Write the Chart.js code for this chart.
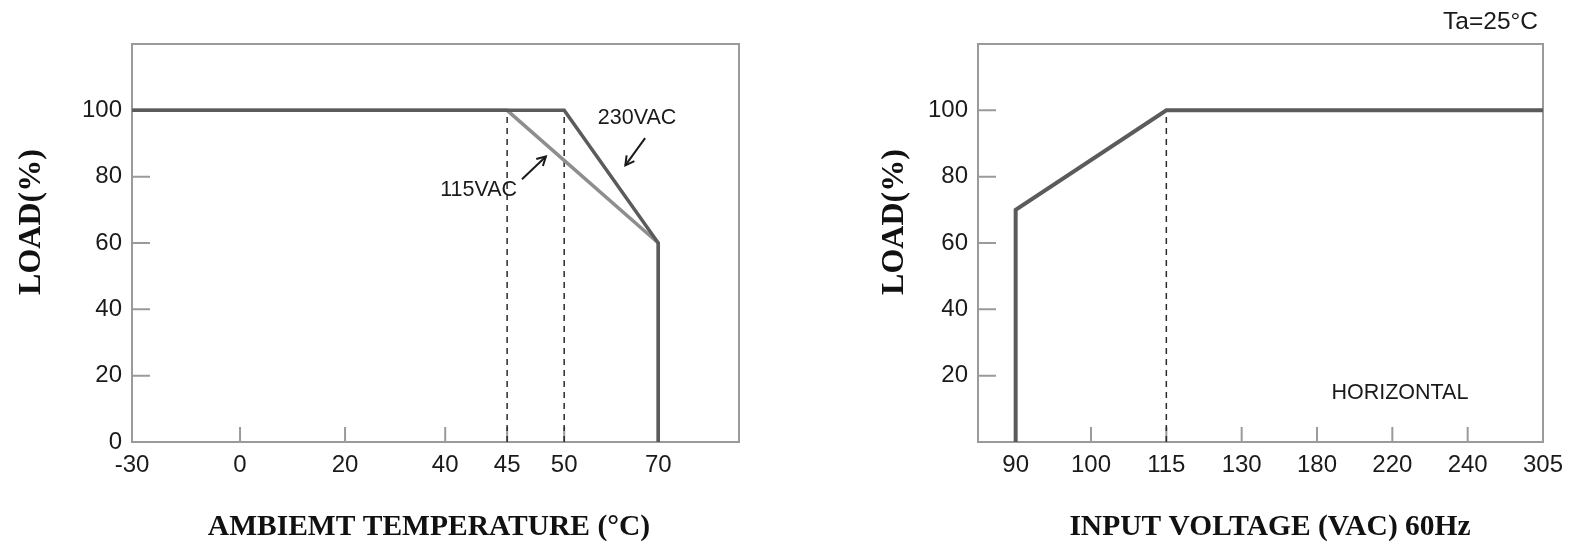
<!DOCTYPE html>
<html><head><meta charset="utf-8">
<script src="https://cdn.jsdelivr.net/npm/chart.js@4.4.1/dist/chart.umd.min.js"></script>
<style>
html,body{margin:0;padding:0;background:#fff;}
#wrap{position:relative;width:1574px;height:545px;overflow:hidden;background:#fff;}
.box{position:absolute;top:0;height:545px;}
canvas{display:block;}
</style></head><body>
<div id="wrap">
<div class="box" style="left:0;width:770px"><canvas id="c1" width="770" height="545"></canvas></div>
<div class="box" style="left:860px;width:714px"><canvas id="c2" width="714" height="545"></canvas></div>
</div>
<script>
// ---------- data ----------
const loadTicksLeft = [0, 20, 40, 60, 80, 100];
const loadTicksRight = [20, 40, 60, 80, 100];
const tempTicks = [-30, 0, 20, 40, 45, 50, 70];
const temp230 = [-30, 50, 70, 70];
const load230 = [100, 100, 60, 0];
const temp115 = [-30, 45, 70, 70];
const load115 = [100, 100, 60, 0];
const tempMarkers = [45, 50];
const voltTicks = [90, 100, 115, 130, 180, 220, 240, 305];
const voltLine = [90, 90, 115, 305];
const voltLoad = [0, 70, 100, 100];
const voltMarkers = [115];

// ---------- piecewise axis (non-uniform tick spacing as printed) ----------
class PiecewiseScale extends Chart.LinearScale {
  _pw(v) {
    const xs = this.options.breaks, us = this.options.stops;
    let i = 0;
    while (i < xs.length - 2 && v > xs[i + 1]) i++;
    return us[i] + (v - xs[i]) / (xs[i + 1] - xs[i]) * (us[i + 1] - us[i]);
  }
  getPixelForValue(v) { return this.getPixelForDecimal(this._pw(v)); }
  getValueForPixel(p) {
    const xs = this.options.breaks, us = this.options.stops;
    const u = this.getDecimalForPixel(p);
    let i = 0;
    while (i < us.length - 2 && u > us[i + 1]) i++;
    return xs[i] + (u - us[i]) / (us[i + 1] - us[i]) * (xs[i + 1] - xs[i]);
  }
}
PiecewiseScale.id = 'piecewise';
PiecewiseScale.defaults = Chart.LinearScale.defaults;
Chart.register(PiecewiseScale);

const pts = (xs, ys) => xs.map((x, i) => ({ x, y: ys[i] }));
const vline = (x) => [{ x, y: 0 }, { x, y: 100 }];

const TICK_FONT = { family: 'Liberation Sans, Arial, sans-serif', size: 24 };
const TITLE_FONT = 'bold 29.5px "Liberation Serif", "Times New Roman", serif';
const YTITLE_FONT = 'bold 32px "Liberation Serif", "Times New Roman", serif';

function yScale(width, tickVals) {
  return {
    type: 'linear', min: 0, max: 120,
    afterBuildTicks: s => { s.ticks = tickVals.map(v => ({ value: v })); },
    ticks: { font: TICK_FONT, color: '#1a1a1a', padding: 10, autoSkip: false, callback: v => String(v) },
    grid: { display: false, drawTicks: false },
    border: { display: false },
    afterFit: s => { s.width = width; }
  };
}
function xScale(tickVals, breaks, stops, min, max) {
  return {
    type: 'piecewise', min, max, breaks, stops,
    afterBuildTicks: s => { s.ticks = tickVals.map(v => ({ value: v })); },
    ticks: { font: TICK_FONT, color: '#1a1a1a', padding: 9, autoSkip: false, maxRotation: 0, callback: v => String(v) },
    grid: { display: false, drawTicks: false },
    border: { display: false },
    afterFit: s => { s.height = 103; }
  };
}

function arrow(ctx, x1, y1, x2, y2) {
  ctx.beginPath(); ctx.moveTo(x1, y1); ctx.lineTo(x2, y2); ctx.stroke();
  const a = Math.atan2(y2 - y1, x2 - x1), L = 10, w = 0.5;
  ctx.beginPath();
  ctx.moveTo(x2 - L * Math.cos(a - w), y2 - L * Math.sin(a - w));
  ctx.lineTo(x2, y2);
  ctx.lineTo(x2 - L * Math.cos(a + w), y2 - L * Math.sin(a + w));
  ctx.stroke();
}

function decor(cfg) {
  return {
    id: 'decor',
    beforeDatasetsDraw(chart) {
      const { ctx, chartArea: a, scales } = chart;
      ctx.save();
      ctx.strokeStyle = '#9a9a9a'; ctx.lineWidth = 2;
      ctx.beginPath();
      [20, 40, 60, 80, 100].forEach(v => {
        const y = scales.y.getPixelForValue(v);
        ctx.moveTo(a.left, y); ctx.lineTo(a.left + 18, y);
      });
      scales.x.ticks.forEach((t, i) => {
        const x = scales.x.getPixelForTick(i);
        if (Math.abs(x - a.left) < 2 || Math.abs(x - a.right) < 2) return;
        ctx.moveTo(x, a.bottom); ctx.lineTo(x, a.bottom - 15);
      });
      ctx.stroke();
      ctx.strokeRect(a.left, a.top, a.right - a.left, a.bottom - a.top);
      ctx.restore();
    },
    afterDatasetsDraw(chart) {
      const { ctx, scales } = chart;
      const X = v => scales.x.getPixelForValue(v), Y = v => scales.y.getPixelForValue(v);
      ctx.save();
      ctx.fillStyle = '#111';
      ctx.font = TITLE_FONT;
      ctx.textAlign = 'center'; ctx.textBaseline = 'middle';
      ctx.fillText(cfg.xTitle, cfg.xTitlePos[0], cfg.xTitlePos[1]);
      ctx.save();
      ctx.font = YTITLE_FONT;
      ctx.translate(cfg.yTitlePos[0], cfg.yTitlePos[1]); ctx.rotate(-Math.PI / 2);
      ctx.fillText('LOAD(%)', 0, 0);
      ctx.restore();
      ctx.font = '21.5px "Liberation Sans", Arial, sans-serif';
      ctx.fillStyle = '#1a1a1a';
      (cfg.labels || []).forEach(l => {
        ctx.textAlign = l.align || 'center';
        ctx.fillText(l.text, X(l.x), Y(l.y));
      });
      ctx.strokeStyle = '#1a1a1a'; ctx.lineWidth = 2;
      (cfg.arrows || []).forEach(r => arrow(ctx, X(r[0]), Y(r[1]), X(r[2]), Y(r[3])));
      if (cfg.corner) {
        ctx.font = '24.5px "Liberation Sans", Arial, sans-serif';
        ctx.textAlign = 'right';
        ctx.fillText(cfg.corner, chart.chartArea.right - 5, 22);
      }
      ctx.restore();
    }
  };
}

const lineDS = (data, color, width, dash) => ({
  data, showLine: true, borderColor: color, borderWidth: width, pointRadius: 0,
  borderDash: dash || [], fill: false, tension: 0, clip: false
});

// ---------- left chart (dataset 0 drawn on top) ----------
new Chart(document.getElementById('c1'), {
  type: 'scatter',
  data: {
    datasets: [
      lineDS(pts(temp230, load230), '#5b5b5b', 3.5),
      lineDS(pts(temp115, load115), '#8e8e8e', 3.5),
      ...tempMarkers.map(t => lineDS(vline(t), '#2a2a2a', 1.5, [6, 5]))
    ]
  },
  options: {
    responsive: false, animation: false, events: [],
    layout: { padding: { top: 44, right: 31, left: 0, bottom: 0 } },
    plugins: { legend: { display: false }, tooltip: { enabled: false } },
    scales: {
      x: xScale(tempTicks, [-30, 0, 20, 40, 45, 50, 70, 85],
        [0, 0.178, 0.351, 0.516, 0.618, 0.712, 0.867, 1], -30, 85),
      y: yScale(132, loadTicksLeft)
    }
  },
  plugins: [decor({
    xTitle: 'AMBIEMT TEMPERATURE (°C)', xTitlePos: [429, 527], yTitlePos: [32, 222],
    labels: [{ text: '230VAC', x: 65.5, y: 97.6 }, { text: '115VAC', x: 42.7, y: 75.9 }],
    arrows: [[67.2, 91.6, 63.0, 83.4], [46.3, 79.2, 48.4, 86.1]]
  })]
});

// ---------- right chart ----------
new Chart(document.getElementById('c2'), {
  type: 'scatter',
  data: {
    datasets: [
      lineDS(pts(voltLine, voltLoad), '#5b5b5b', 4),
      ...voltMarkers.map(v => lineDS(vline(v), '#2a2a2a', 1.5, [6, 5]))
    ]
  },
  options: {
    responsive: false, animation: false, events: [],
    layout: { padding: { top: 44, right: 31, left: 0, bottom: 0 } },
    plugins: { legend: { display: false }, tooltip: { enabled: false } },
    scales: {
      x: xScale(voltTicks, [80, 90, 100, 115, 130, 180, 220, 240, 305],
        [0, 0.5, 1.5, 2.5, 3.5, 4.5, 5.5, 6.5, 7.5].map(v => v / 7.5), 80, 305),
      y: yScale(118, loadTicksRight)
    }
  },
  plugins: [decor({
    xTitle: 'INPUT VOLTAGE (VAC) 60Hz', xTitlePos: [410, 527], yTitlePos: [35, 222],
    labels: [{ text: 'HORIZONTAL', x: 222, y: 14.8 }],
    corner: 'Ta=25°C'
  })]
});
</script>
</body></html>
